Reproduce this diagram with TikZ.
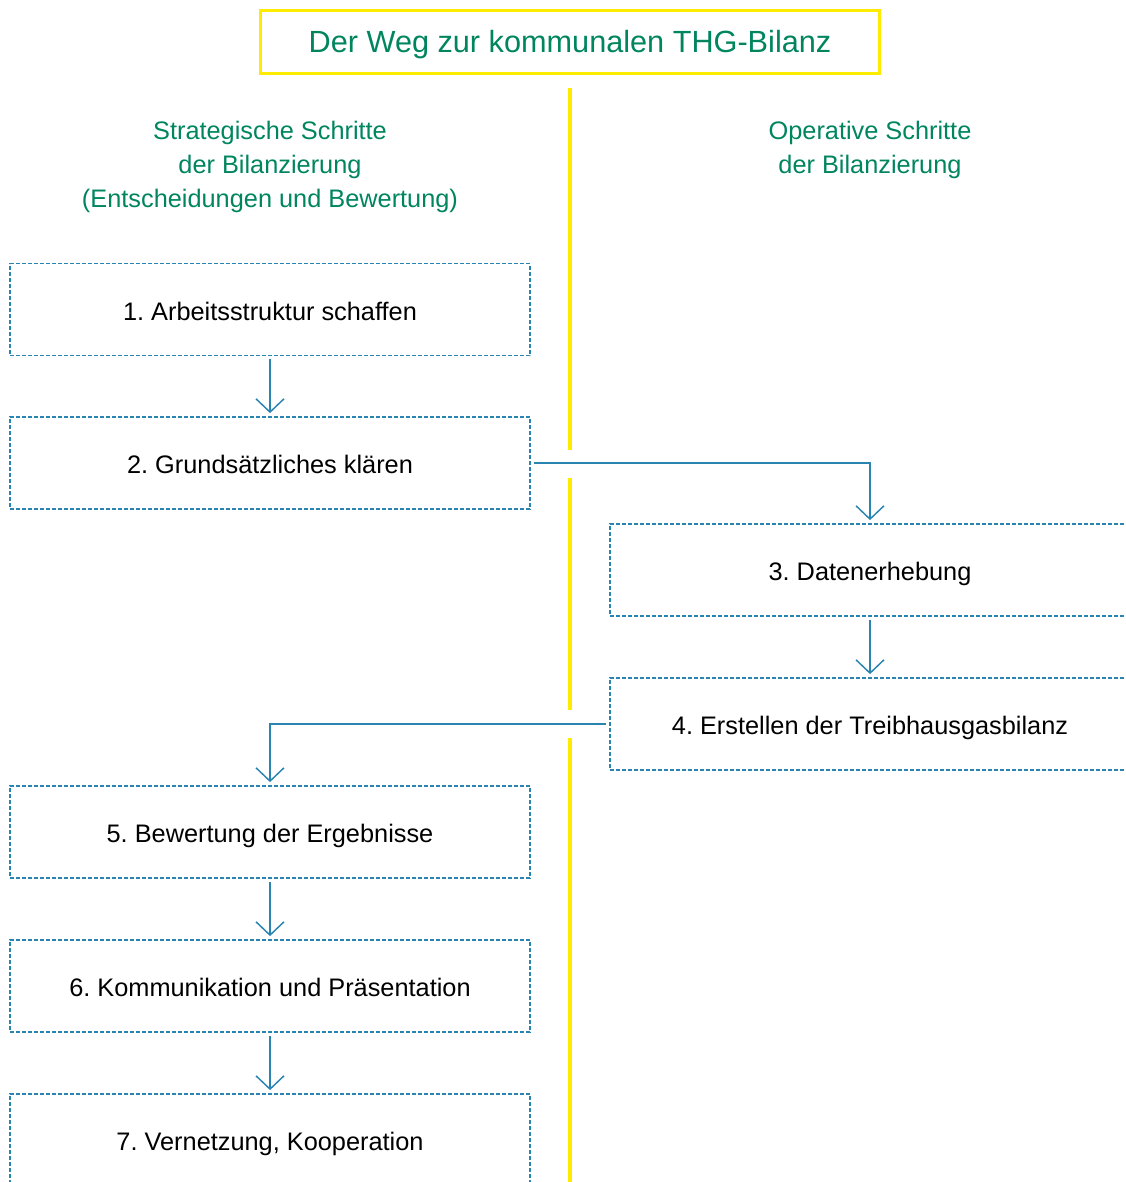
\documentclass[tikz,border=0pt]{standalone}
\usepackage{fontspec}
\setmainfont{Liberation Sans}
\usetikzlibrary{arrows.meta}
\definecolor{thggreen}{HTML}{00855F}
\definecolor{thgyellow}{HTML}{FFEB00}
\definecolor{thgblue}{HTML}{2A84B2}
\tikzset{
  x=0.75pt, y=-0.75pt,
  stepbox/.style={draw=thgblue, line width=0.8pt, dash pattern=on 3pt off 1.5pt,
    minimum width=390pt, minimum height=69pt, inner sep=0pt,
    text height=15.8pt, text depth=0pt,
    font=\fontsize{19}{23}\selectfont\frenchspacing, text=black},
  header/.style={text=thggreen, align=center, font=\fontsize{19}{25.5}\selectfont},
  flow/.style={draw=thgblue, line width=1.1pt,
    -{Straight Barb[length=10pt, width=21pt, line width=1.1pt]},
    shorten <=2.5pt, shorten >=2.5pt},
  yline/.style={draw=thgyellow, line width=2.3pt},
}
\begin{document}
\begin{tikzpicture}
\useasboundingbox (0,0) rectangle (1125,1182);
\clip (0,0) rectangle (1125,1182);
% title
\node[draw=thgyellow, line width=2.3pt, minimum width=464pt, minimum height=47pt,
  inner sep=0pt, text height=15.5pt, text depth=0pt,
  text=thggreen, font=\fontsize{23}{28}\selectfont] (title) at (570,42)
  {Der Weg zur kommunalen THG-Bilanz};
% yellow separator
\coordinate (y0) at (570,88);
\coordinate (y1) at (570,450);
\coordinate (y2) at (570,478);
\coordinate (y3) at (570,710);
\coordinate (y4) at (570,738);
\coordinate (y5) at (570,1190);
\draw[yline] (y0) -- (y1);
\draw[yline] (y2) -- (y3);
\draw[yline] (y4) -- (y5);
% headers
\node[header] (hleft) at (270,167) {Strategische Schritte\\der Bilanzierung\\(Entscheidungen und Bewertung)};
\node[header] (hright) at (870,150) {Operative Schritte\\der Bilanzierung};
% boxes
\node[stepbox] (s1) at (270,309.5) {1. Arbeitsstruktur schaffen};
\node[stepbox] (s2) at (270,463) {2. Grundsätzliches klären};
\node[stepbox] (s3) at (870,570) {3. Datenerhebung};
\node[stepbox] (s4) at (870,724) {4. Erstellen der Treibhausgasbilanz};
\node[stepbox] (s5) at (270,832) {5. Bewertung der Ergebnisse};
\node[stepbox] (s6) at (270,986) {6. Kommunikation und Präsentation};
\node[stepbox] (s7) at (270,1140) {7. Vernetzung, Kooperation};
% connectors
\draw[flow] (s1) -- (s2);
\draw[flow] (s2.east) -| (s3.north);
\draw[flow] (s3) -- (s4);
\draw[flow] (s4.west) -| (s5.north);
\draw[flow] (s5) -- (s6);
\draw[flow] (s6) -- (s7);
\end{tikzpicture}
\end{document}
